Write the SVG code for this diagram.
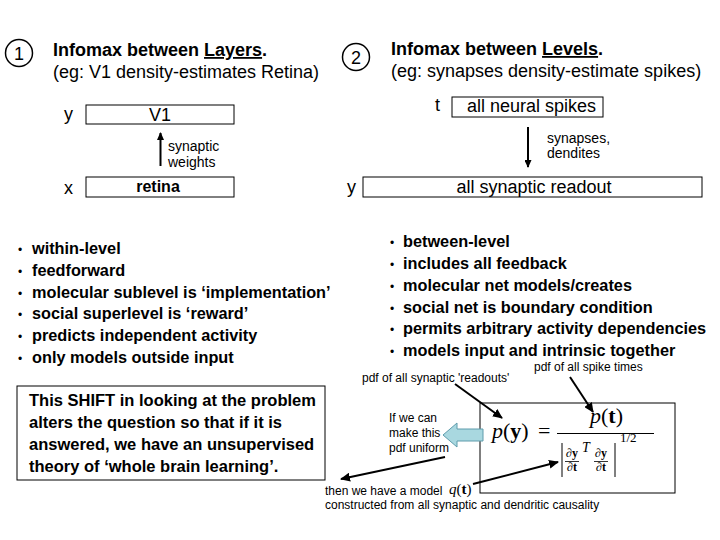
<svg xmlns="http://www.w3.org/2000/svg" width="720" height="540" viewBox="0 0 720 540">
<defs>
<style>
text{font-family:"Liberation Sans",Arial,sans-serif;fill:#000}
.h{font-size:18px;font-weight:bold}
.n{font-size:18px}
.b{font-size:16.3px;font-weight:bold}
.bb{font-size:16.5px;font-weight:bold}
.s{font-size:14px}
.xs{font-size:12px}
.m{font-family:"Liberation Serif","Times New Roman",serif}
.box{fill:#fff;stroke:#000;stroke-width:1}
.circ{fill:#fff;stroke:#000;stroke-width:1.5}
.arr{stroke:#000;stroke-width:2;fill:none}
.rule{stroke:#000;stroke-width:1;fill:none}
</style>
<marker id="ah" markerUnits="userSpaceOnUse" markerWidth="10" markerHeight="9" viewBox="0 0 10 9" refX="9" refY="4.5" orient="auto">
<path d="M0,0 L10,4.5 L0,9 z" fill="#000"/>
</marker>
<marker id="ahs" markerUnits="userSpaceOnUse" markerWidth="8" markerHeight="7" viewBox="0 0 8 7" refX="7" refY="3.5" orient="auto">
<path d="M0,0 L8,3.5 L0,7 z" fill="#000"/>
</marker>
</defs>
<rect width="720" height="540" fill="#fff"/>

<g id="title1">
<circle class="circ" cx="19" cy="53" r="13.5"/>
<text class="n" x="19" y="59.5" text-anchor="middle">1</text>
<text class="h" x="53" y="56">Infomax between <tspan text-decoration="underline">Layers</tspan>.</text>
<text class="n" x="53" y="78">(eg: V1 density-estimates Retina)</text>
</g>

<g id="title2">
<circle class="circ" cx="356" cy="57" r="13.5"/>
<text class="n" x="356" y="63.5" text-anchor="middle">2</text>
<text class="h" x="391" y="55">Infomax between <tspan text-decoration="underline">Levels</tspan>.</text>
<text class="n" x="391" y="77">(eg: synapses density-estimate spikes)</text>
</g>

<g id="node-v1">
<text class="n" x="64" y="120">y</text>
<rect class="box" x="86" y="105" width="148" height="19"/>
<text class="n" x="160" y="121" text-anchor="middle">V1</text>
</g>

<g id="node-retina">
<text class="n" x="64" y="194">x</text>
<rect class="box" x="86" y="177" width="148" height="20"/>
<text x="158" y="192" text-anchor="middle" font-weight="bold" style="font-size:16px">retina</text>
</g>

<g id="node-spikes">
<text class="n" x="435" y="111">t</text>
<rect class="box" x="452" y="97" width="151" height="20"/>
<text class="n" x="467" y="112">all neural spikes</text>
</g>

<g id="node-readout">
<text class="n" x="347" y="193">y</text>
<rect class="box" x="363" y="177" width="339" height="20"/>
<text class="n" x="534" y="193" text-anchor="middle">all synaptic readout</text>
</g>

<g id="bullets-left">
<text class="b" y="254"><tspan x="18" style="font-size:12px;font-weight:normal">•</tspan><tspan x="32">within-level</tspan></text>
<text class="b" y="276"><tspan x="18" style="font-size:12px;font-weight:normal">•</tspan><tspan x="32">feedforward</tspan></text>
<text class="b" y="298"><tspan x="18" style="font-size:12px;font-weight:normal">•</tspan><tspan x="32">molecular sublevel is ‘implementation’</tspan></text>
<text class="b" y="319"><tspan x="18" style="font-size:12px;font-weight:normal">•</tspan><tspan x="32">social superlevel is ‘reward’</tspan></text>
<text class="b" y="341"><tspan x="18" style="font-size:12px;font-weight:normal">•</tspan><tspan x="32">predicts independent activity</tspan></text>
<text class="b" y="363"><tspan x="18" style="font-size:12px;font-weight:normal">•</tspan><tspan x="32">only models outside input</tspan></text>
</g>

<g id="bullets-right">
<text class="b" y="247"><tspan x="390" style="font-size:12px;font-weight:normal">•</tspan><tspan x="403">between-level</tspan></text>
<text class="b" y="269"><tspan x="390" style="font-size:12px;font-weight:normal">•</tspan><tspan x="403">includes all feedback</tspan></text>
<text class="b" y="291"><tspan x="390" style="font-size:12px;font-weight:normal">•</tspan><tspan x="403">molecular net models/creates</tspan></text>
<text class="b" y="313"><tspan x="390" style="font-size:12px;font-weight:normal">•</tspan><tspan x="403">social net is boundary condition</tspan></text>
<text class="b" y="334"><tspan x="390" style="font-size:12px;font-weight:normal">•</tspan><tspan x="403">permits arbitrary activity dependencies</tspan></text>
<text class="b" y="356"><tspan x="390" style="font-size:12px;font-weight:normal">•</tspan><tspan x="403">models input and intrinsic together</tspan></text>
</g>

<g id="shift-box">
<rect class="box" x="17" y="386" width="308" height="94"/>
<text class="bb" x="29" y="406">This SHIFT in looking at the problem</text>
<text class="bb" x="29" y="428">alters the question so that if it is</text>
<text class="bb" x="29" y="450">answered, we have an unsupervised</text>
<text class="bb" x="29" y="472">theory of ‘whole brain learning’.</text>
</g>

<g id="formula">
<rect class="box" x="480" y="403" width="195" height="90"/>
<text class="m" x="492" y="438" style="font-size:22px"><tspan font-style="italic">p</tspan>(<tspan font-weight="bold">y</tspan>)</text>
<text class="m" x="538" y="438" style="font-size:22px">=</text>
<text class="m" x="590" y="423" style="font-size:22px"><tspan font-style="italic">p</tspan>(<tspan font-weight="bold">t</tspan>)</text>
<line class="rule" x1="557" y1="433.5" x2="654" y2="433.5"/>
<line class="rule" x1="562" y1="443" x2="562" y2="477"/>
<line class="rule" x1="615" y1="443" x2="615" y2="477"/>
<text class="m" x="572" y="457" text-anchor="middle" style="font-size:12px">∂<tspan font-weight="bold">y</tspan></text>
<line class="rule" x1="565" y1="461.5" x2="579" y2="461.5" style="stroke-width:0.8"/>
<text class="m" x="572" y="471" text-anchor="middle" style="font-size:12px">∂<tspan font-weight="bold">t</tspan></text>
<text class="m" x="582" y="452" font-style="italic" style="font-size:14px">T</text>
<text class="m" x="601" y="457" text-anchor="middle" style="font-size:12px">∂<tspan font-weight="bold">y</tspan></text>
<line class="rule" x1="594" y1="461.5" x2="608" y2="461.5" style="stroke-width:0.8"/>
<text class="m" x="601" y="471" text-anchor="middle" style="font-size:12px">∂<tspan font-weight="bold">t</tspan></text>
<text class="m" x="620" y="442" style="font-size:13px">1/2</text>
</g>

<g id="labels">
<text class="s" x="168" y="151">synaptic</text>
<text class="s" x="168" y="167">weights</text>
<text class="s" x="547" y="143">synapses,</text>
<text class="s" x="547" y="158">dendites</text>
<text class="xs" x="362" y="382">pdf of all synaptic 'readouts'</text>
<text class="xs" x="534" y="371">pdf of all spike times</text>
<text class="xs" x="389" y="422">If we can</text>
<text class="xs" x="389" y="437">make this</text>
<text class="xs" x="389" y="452">pdf uniform</text>
<text class="xs" x="325" y="495">then we have a model</text>
<text class="m" x="449" y="494" style="font-size:15px"><tspan font-style="italic">q</tspan>(<tspan font-weight="bold">t</tspan>)</text>
<text class="xs" x="325" y="509">constructed from all synaptic and dendritic causality</text>
</g>

<g id="connectors">
<line class="arr" x1="160.5" y1="166" x2="160.5" y2="133" marker-end="url(#ahs)"/>
<line class="arr" x1="528" y1="127" x2="528" y2="167" marker-end="url(#ahs)"/>
<line class="arr" x1="455" y1="384" x2="502" y2="418" marker-end="url(#ah)"/>
<line class="arr" x1="570" y1="377" x2="593" y2="412" marker-end="url(#ah)"/>
<line class="arr" x1="445" y1="457" x2="341" y2="479" marker-end="url(#ah)"/>
<line class="arr" x1="473" y1="484" x2="558" y2="462" marker-end="url(#ah)"/>
<polygon points="443,435 457,423 457,429 483,429 483,441 457,441 457,447" fill="#A9D8E0" stroke="#5F9CAC" stroke-width="1"/>
</g>
</svg>
